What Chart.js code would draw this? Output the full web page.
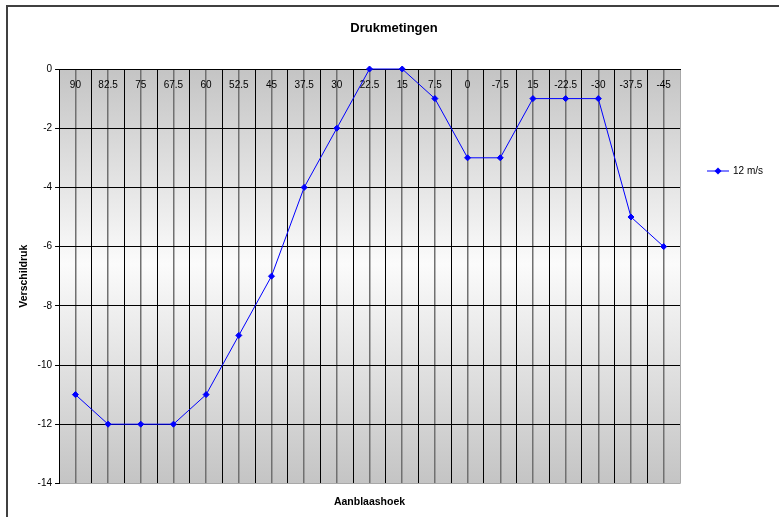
<!DOCTYPE html>
<html>
<head>
<meta charset="utf-8">
<title>Drukmetingen</title>
<script src="https://cdn.jsdelivr.net/npm/chart.js@4"></script>
<style>
  body { margin: 0; background: #fff; }
  #grafiek { display: block; }
</style>
</head>
<body>
<canvas id="grafiek" width="779" height="517"></canvas>
<script>
// meetwaarden
const hoeken = ['90', '82.5', '75', '67.5', '60', '52.5', '45', '37.5', '30', '22.5', '15', '7.5', '0', '-7.5', '15', '-22.5', '-30', '-37.5', '-45'];
const druk12 = [-11, -12, -12, -12, -11, -9, -7, -4, -2, 0, 0, -1, -3, -3, -1, -1, -1, -5, -6];
const drukMin = -14;
const drukMax = 0;
const drukStap = 2;

const titelTekst = 'Drukmetingen';
const reeksNaam = '12 m/s';
const lijnKleur = '#0000ff';
const randGrijs = '#a8a8a8';

// achtergrond, kader, titel en legenda (zoals in Excel)
const excelStijl = {
  id: 'excelStijl',
  beforeDraw(chart) {
    const ctx = chart.ctx;
    const ca = chart.chartArea;
    ctx.save();
    ctx.fillStyle = '#fff';
    ctx.fillRect(0, 0, chart.width, chart.height);
    const grad = ctx.createLinearGradient(0, ca.top, 0, ca.bottom);
    grad.addColorStop(0, '#c4c4c4');
    grad.addColorStop(0.47, '#fbfbfb');
    grad.addColorStop(1, '#c4c4c4');
    ctx.fillStyle = grad;
    ctx.fillRect(ca.left, ca.top, ca.right - ca.left, ca.bottom - ca.top);
    ctx.restore();
  },
  afterDraw(chart) {
    const ctx = chart.ctx;
    ctx.save();
    // buitenkader
    ctx.strokeStyle = '#404040';
    ctx.lineWidth = 2;
    ctx.strokeRect(7, 6, chart.width + 20, chart.height + 20);

    // titel
    ctx.fillStyle = '#000';
    ctx.font = 'bold 13px "Liberation Sans", Arial, sans-serif';
    ctx.textAlign = 'center';
    ctx.textBaseline = 'middle';
    ctx.fillText(titelTekst, 394, 28);

    // legenda
    const ds = chart.data.datasets[0];
    const ly = 171;
    ctx.strokeStyle = ds.borderColor;
    ctx.lineWidth = 1;
    ctx.beginPath();
    ctx.moveTo(707, ly);
    ctx.lineTo(729, ly);
    ctx.stroke();
    ctx.fillStyle = ds.pointBackgroundColor;
    ctx.beginPath();
    ctx.moveTo(718, ly - 3.5);
    ctx.lineTo(721.5, ly);
    ctx.lineTo(718, ly + 3.5);
    ctx.lineTo(714.5, ly);
    ctx.closePath();
    ctx.fill();
    ctx.fillStyle = '#000';
    ctx.font = '10px "Liberation Sans", Arial, sans-serif';
    ctx.textAlign = 'left';
    ctx.fillText(ds.label, 733, ly);
    ctx.restore();
  }
};

const grafiek = new Chart(document.getElementById('grafiek'), {
  type: 'line',
  data: {
    labels: hoeken,
    datasets: [{
      label: reeksNaam,
      data: druk12,
      xAxisID: 'x',
      borderColor: lijnKleur,
      borderWidth: 1,
      pointStyle: 'rectRot',
      pointRadius: 3,
      pointBackgroundColor: lijnKleur,
      pointBorderColor: lijnKleur,
      pointBorderWidth: 1,
      tension: 0,
      clip: false
    }]
  },
  options: {
    responsive: false,
    animation: false,
    devicePixelRatio: 1,
    layout: { padding: { left: 0, right: 99, top: 69, bottom: 0 } },
    plugins: {
      legend: { display: false },
      title: { display: false },
      tooltip: { enabled: false }
    },
    scales: {
      // categorie-as ligt op druk 0 (bovenrand), labels binnen het plotvlak
      x: {
        type: 'category',
        position: { y: 0 },
        offset: true,
        grid: {
          offset: true,
          drawTicks: false,
          color: (c) => c.type === 'scale' ? randGrijs : '#000',
          lineWidth: 1
        },
        border: { color: '#000', width: 1 },
        ticks: {
          color: '#000',
          font: { family: '"Liberation Sans", Arial, sans-serif', size: 10 },
          padding: 10,
          maxRotation: 0,
          autoSkip: false
        }
      },
      // tweede as voor de lijnen door de meetpunten en de astitel
      x2: {
        type: 'category',
        position: 'bottom',
        offset: true,
        grid: {
          offset: false,
          drawTicks: false,
          color: '#707070',
          lineWidth: 1.5
        },
        border: { color: randGrijs, width: 1 },
        ticks: { display: false },
        title: {
          display: true,
          text: 'Aanblaashoek',
          color: '#000',
          font: { family: '"Liberation Sans", Arial, sans-serif', size: 10.5, weight: 'bold' },
          padding: { top: 12, bottom: 9 }
        }
      },
      y: {
        min: drukMin,
        max: drukMax,
        ticks: {
          stepSize: drukStap,
          color: '#000',
          font: { family: '"Liberation Sans", Arial, sans-serif', size: 10 },
          padding: 3
        },
        grid: {
          color: (c) => c.tick && c.tick.value === drukMin ? randGrijs : '#000',
          tickColor: '#000',
          tickLength: 4,
          lineWidth: 1
        },
        border: { color: '#000', width: 1 },
        title: {
          display: true,
          text: 'Verschildruk',
          color: '#000',
          font: { family: '"Liberation Sans", Arial, sans-serif', size: 10.5, weight: 'bold' },
          padding: { top: 18, bottom: 4 }
        }
      }
    }
  },
  plugins: [excelStijl]
});
</script>
</body>
</html>
